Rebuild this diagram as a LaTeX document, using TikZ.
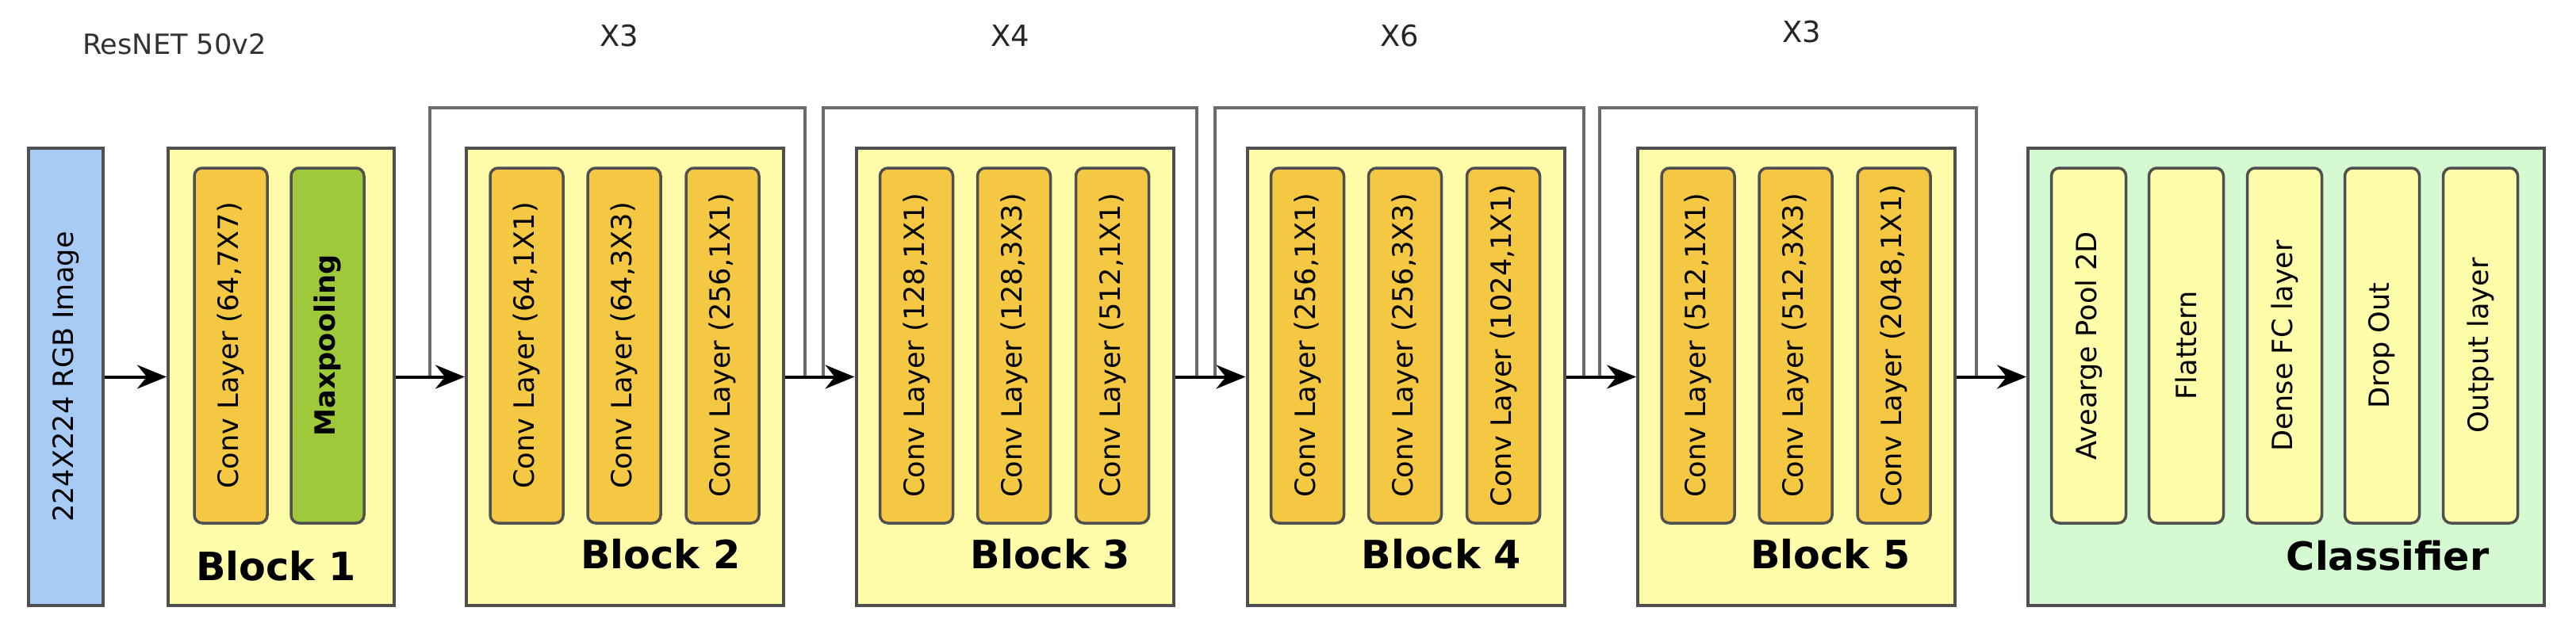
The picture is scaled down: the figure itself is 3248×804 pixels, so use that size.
\documentclass[tikz,border=0pt]{standalone}
\usepackage{fontspec}
\setmainfont{DejaVu Sans}
\usetikzlibrary{arrows.meta,calc}

\definecolor{blockfill}{HTML}{FFFCAA}
\definecolor{convfill}{HTML}{F5C843}
\definecolor{poolgreen}{HTML}{9DC93B}
\definecolor{inputblue}{HTML}{A7CBF5}
\definecolor{classfill}{HTML}{D5FAD2}
\definecolor{edgegray}{HTML}{4F4F4F}
\definecolor{skipgray}{HTML}{6A6A6A}

\begin{document}
\begin{tikzpicture}[x=0.1mm,y=0.1mm,
    blockbox/.style={draw=edgegray,line width=0.4mm,fill=blockfill,minimum width=40mm,minimum height=57.7mm,inner sep=0pt},
    layerbox/.style={draw=edgegray,line width=0.35mm,rounded corners=1mm,fill=convfill,rotate=90,minimum width=44.8mm,minimum height=9.2mm,inner sep=0pt,font=\fontsize{10}{12}\selectfont},
    blocklabel/.style={anchor=base east,font=\bfseries\fontsize{14}{16}\selectfont},
    replabel/.style={font=\fontsize{10.5}{12}\selectfont,text=black!85},
    flow/.style={-{Stealth[length=3.7mm,width=3mm]},line width=0.4mm},
    skip/.style={draw=skipgray,line width=0.4mm}]
    \useasboundingbox (0,0) rectangle (3248,804);
    %% title
    \node[font=\fontsize{10}{12}\selectfont,text=black!80] (title) at (220,748) {ResNET 50v2};
    %% input image
    \node[layerbox,rounded corners=0pt,fill=inputblue,minimum width=57.7mm,minimum height=9.4mm] (img) at (83,328.5) {224X224 RGB Image};
    %% block 1
    \node[blockbox,minimum width=28.5mm] (b1) at (354.5,328.5) {};
    \node[layerbox] (b1c1) at ([xshift=-6.35mm,yshift=3.95mm]b1.center) {Conv Layer (64,7X7)};
    \node[layerbox,fill=poolgreen,font=\bfseries\fontsize{10}{12}\selectfont] (b1p) at ([xshift=5.85mm,yshift=3.95mm]b1.center) {Maxpooling};
    \node[blocklabel] (l1) at ([xshift=-3.8mm,yshift=3.4mm]b1.south east) {Block 1};
    %% block 2
    \node[blockbox] (b2) at (788,328.5) {};
    \node[layerbox] (b2c1) at ([xshift=-12.4mm,yshift=3.95mm]b2.center) {Conv Layer (64,1X1)};
    \node[layerbox] (b2c2) at ([xshift=-0.1mm,yshift=3.95mm]b2.center) {Conv Layer (64,3X3)};
    \node[layerbox] (b2c3) at ([xshift=12.3mm,yshift=3.95mm]b2.center) {Conv Layer (256,1X1)};
    \node[blocklabel] (l2) at ([xshift=-4.4mm,yshift=4.9mm]b2.south east) {Block 2};
    %% block 3
    \node[blockbox] (b3) at (1279.5,328.5) {};
    \node[layerbox] (b3c1) at ([xshift=-12.4mm,yshift=3.95mm]b3.center) {Conv Layer (128,1X1)};
    \node[layerbox] (b3c2) at ([xshift=-0.1mm,yshift=3.95mm]b3.center) {Conv Layer (128,3X3)};
    \node[layerbox] (b3c3) at ([xshift=12.3mm,yshift=3.95mm]b3.center) {Conv Layer (512,1X1)};
    \node[blocklabel] (l3) at ([xshift=-4.4mm,yshift=4.9mm]b3.south east) {Block 3};
    %% block 4
    \node[blockbox] (b4) at (1772.5,328.5) {};
    \node[layerbox] (b4c1) at ([xshift=-12.4mm,yshift=3.95mm]b4.center) {Conv Layer (256,1X1)};
    \node[layerbox] (b4c2) at ([xshift=-0.1mm,yshift=3.95mm]b4.center) {Conv Layer (256,3X3)};
    \node[layerbox] (b4c3) at ([xshift=12.3mm,yshift=3.95mm]b4.center) {Conv Layer (1024,1X1)};
    \node[blocklabel] (l4) at ([xshift=-4.4mm,yshift=4.9mm]b4.south east) {Block 4};
    %% block 5
    \node[blockbox] (b5) at (2265,328.5) {};
    \node[layerbox] (b5c1) at ([xshift=-12.4mm,yshift=3.95mm]b5.center) {Conv Layer (512,1X1)};
    \node[layerbox] (b5c2) at ([xshift=-0.1mm,yshift=3.95mm]b5.center) {Conv Layer (512,3X3)};
    \node[layerbox] (b5c3) at ([xshift=12.3mm,yshift=3.95mm]b5.center) {Conv Layer (2048,1X1)};
    \node[blocklabel] (l5) at ([xshift=-4.6mm,yshift=4.9mm]b5.south east) {Block 5};
    %% classifier
    \node[blockbox,fill=classfill,minimum width=65.1mm] (cls) at (2882.5,328.5) {};
    \node[layerbox,fill=blockfill,minimum height=9.4mm] (avg) at ([xshift=-24.9mm,yshift=3.95mm]cls.center) {Avearge Pool 2D};
    \node[layerbox,fill=blockfill,minimum height=9.4mm] (flat) at ([xshift=-12.6mm,yshift=3.95mm]cls.center) {Flattern};
    \node[layerbox,fill=blockfill,minimum height=9.4mm] (dense) at ([xshift=-0.2mm,yshift=3.95mm]cls.center) {Dense FC layer};
    \node[layerbox,fill=blockfill,minimum height=9.4mm] (drop) at ([xshift=12.1mm,yshift=3.95mm]cls.center) {Drop Out};
    \node[layerbox,fill=blockfill,minimum height=9.4mm] (out) at ([xshift=24.5mm,yshift=3.95mm]cls.center) {Output layer};
    \node[blocklabel] (lc) at ([xshift=-5.9mm,yshift=4.7mm]cls.south east) {Classifier};
    %% repeats
    \node[replabel] (r2) at (781,759) {X3};
    \node[replabel] (r3) at (1274,759) {X4};
    \node[replabel] (r4) at (1765,759) {X6};
    \node[replabel] (r5) at (2272,764) {X3};
    %% skip connections
    \draw[skip] ([xshift=-4.4mm]b2.west) -- ++(0,339.5) -| ([xshift=2.5mm]b2.east);
    \draw[skip] ([xshift=-4.0mm]b3.west) -- ++(0,339.5) -| ([xshift=2.7mm]b3.east);
    \draw[skip] ([xshift=-3.9mm]b4.west) -- ++(0,339.5) -| ([xshift=2.2mm]b4.east);
    \draw[skip] ([xshift=-4.6mm]b5.west) -- ++(0,339.5) -| ([xshift=2.5mm]b5.east);
    %% flow
    \draw[flow] (img) -- (b1);
    \draw[flow] (b1) -- (b2);
    \draw[flow] (b2) -- (b3);
    \draw[flow] (b3) -- (b4);
    \draw[flow] (b4) -- (b5);
    \draw[flow] (b5) -- (cls);
\end{tikzpicture}
\end{document}
